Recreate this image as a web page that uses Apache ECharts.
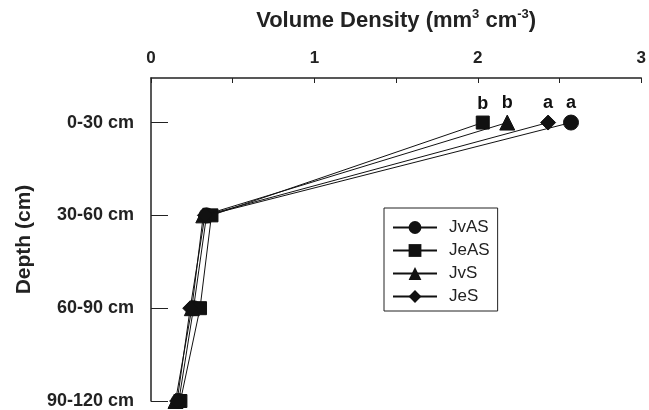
<!DOCTYPE html>
<html>
<head>
<meta charset="utf-8">
<script src="https://cdn.jsdelivr.net/npm/echarts@6/dist/echarts.min.js"></script>
<style>
html,body{margin:0;padding:0;background:#fff;}
#main{width:649px;height:410px;}
</style>
</head>
<body>
<div id="main"></div>
<script>
// depth layers (top to bottom)
var depths = ['0-30 cm', '30-60 cm', '60-90 cm', '90-120 cm'];
var seriesNames = ['JvAS', 'JeAS', 'JvS', 'JeS'];
var symbols = ['circle', 'rect', 'triangle', 'diamond'];
// volume density per depth
var jvas = [2.57, 0.34, 0.26, 0.17];
var jeas = [2.03, 0.37, 0.30, 0.18];
var jvs  = [2.18, 0.32, 0.25, 0.15];
var jes  = [2.43, 0.33, 0.24, 0.16];
// significance letters for the 0-30 cm layer
var letters = ['a', 'b', 'b', 'a'];
var xTicks = [0, 1, 2, 3];

var allValues = [jvas, jeas, jvs, jes];
var font = "'Liberation Sans', Arial, sans-serif";

var chart = echarts.init(document.getElementById('main'));

var series = seriesNames.map(function (name, i) {
    var data = allValues[i].map(function (v, k) {
        var item = { value: [v, k] };
        if (k === 0) {
            item.label = {
                show: true,
                position: 'top',
                distance: 3,
                formatter: letters[i],
                color: '#111',
                fontSize: 18,
                fontWeight: 'bold',
                fontFamily: font
            };
        }
        return item;
    });
    return {
        name: name,
        type: 'line',
        symbol: symbols[i],
        symbolSize: i === 1 ? 13 : 15,
        showAllSymbol: true,
        lineStyle: { color: '#111', width: 1 },
        itemStyle: { color: '#111', borderColor: '#111' },
        emphasis: { disabled: true },
        data: data,
        z: 2 + i
    };
});

var option = {
    animation: false,
    textStyle: { fontFamily: font },
    grid: { left: 151, right: 6, top: 78, bottom: 6 },
    legend: {
        orient: 'vertical',
        left: 384,
        top: 208,
        padding: [11, 8, 6, 8],
        borderColor: '#222',
        borderWidth: 1,
        itemWidth: 44,
        itemHeight: 16,
        itemGap: 6,
        textStyle: { fontSize: 17, color: '#222', fontFamily: font, padding: [0, 0, 0, 7] },
        data: seriesNames
    },
    xAxis: {
        type: 'value',
        position: 'top',
        min: 0,
        max: 3,
        interval: 0.5,
        name: 'Volume Density (mm{sup|3} cm{sup|-3})',
        nameLocation: 'middle',
        nameGap: 44,
        nameTextStyle: {
            fontSize: 22,
            fontWeight: 'bold',
            color: '#222',
            fontFamily: font,
            lineHeight: 26,
            rich: {
                sup: { fontSize: 13, fontWeight: 'bold', color: '#222', verticalAlign: 'top', lineHeight: 26, fontFamily: font }
            }
        },
        axisLine: { onZero: false, lineStyle: { color: '#222', width: 1.5 } },
        axisTick: { inside: true, length: 5, lineStyle: { color: '#222' } },
        axisLabel: {
            customValues: xTicks,
            margin: 11,
            fontSize: 17,
            fontWeight: 'bold',
            color: '#222',
            fontFamily: font
        },
        splitLine: { show: false }
    },
    yAxis: {
        type: 'value',
        inverse: true,
        min: -0.48,
        max: 3,
        name: 'Depth (cm)',
        nameLocation: 'middle',
        nameGap: 116,
        nameTextStyle: { fontSize: 21, fontWeight: 'bold', color: '#222', fontFamily: font },
        axisLine: { onZero: false, lineStyle: { color: '#222', width: 1.5 } },
        axisTick: { customValues: [0, 1, 2, 3], inside: true, length: 17, lineStyle: { color: '#222' } },
        axisLabel: {
            customValues: [0, 1, 2, 3],
            margin: 17,
            fontSize: 18,
            fontWeight: 'bold',
            color: '#222',
            fontFamily: font,
            formatter: function (v) { return depths[Math.round(v)]; }
        },
        splitLine: { show: false }
    },
    series: series
};

chart.setOption(option);
</script>
</body>
</html>
